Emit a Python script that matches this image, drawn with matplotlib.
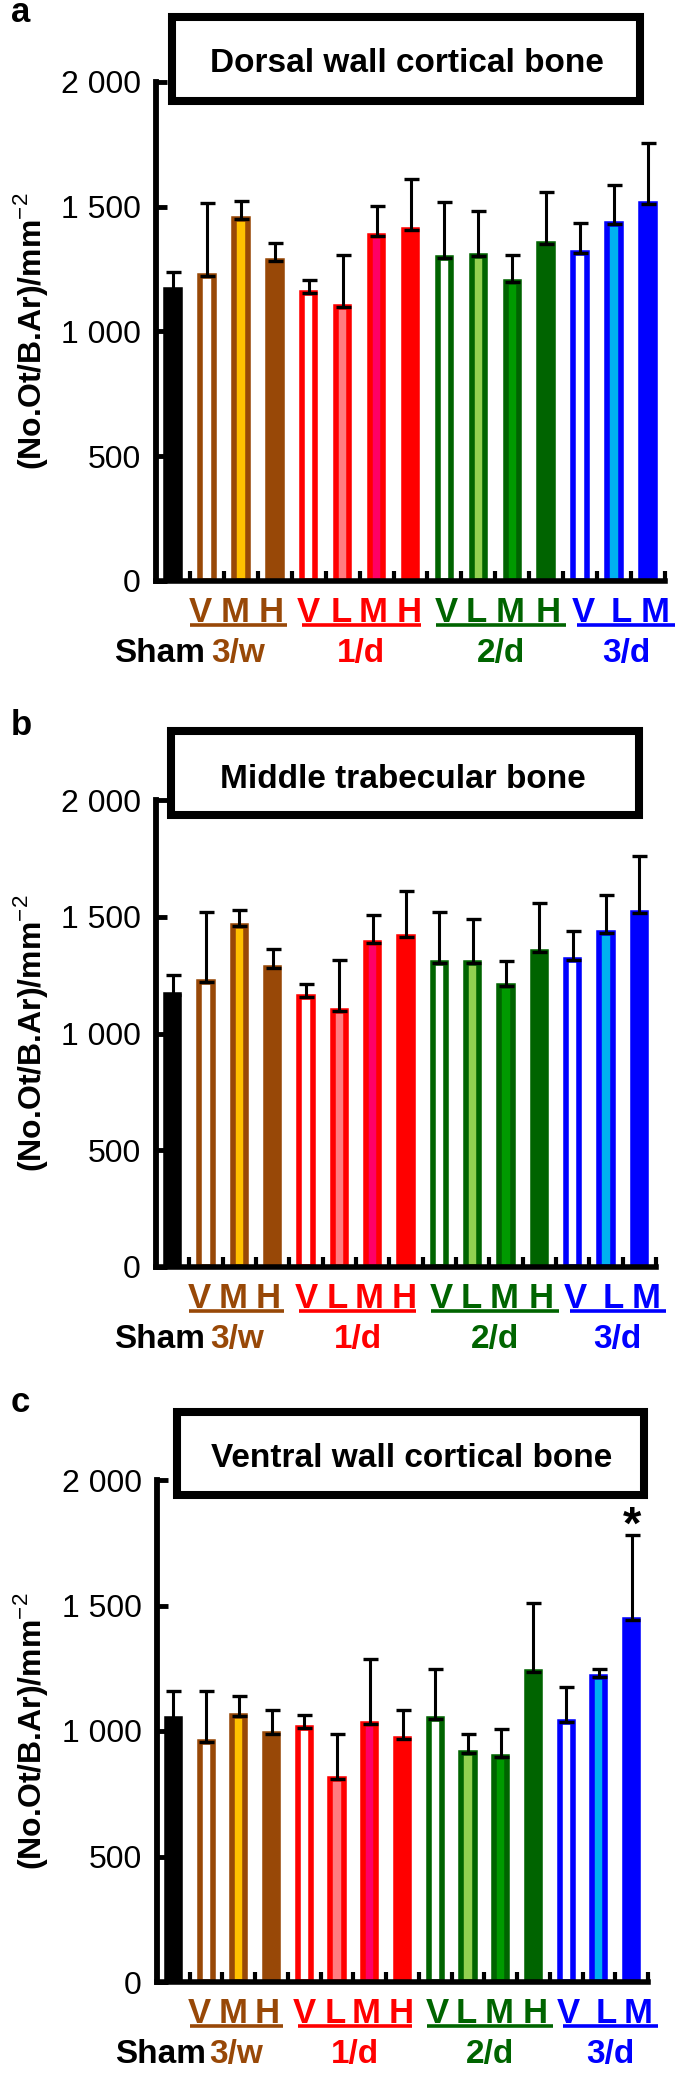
import numpy as np
import matplotlib
matplotlib.use("Agg")
import matplotlib.pyplot as plt
import matplotlib.transforms as mtransforms
from matplotlib.patches import Rectangle

plt.rcParams["font.family"] = ["Liberation Sans", "DejaVu Sans"]
plt.rcParams["mathtext.fontset"] = "custom"
plt.rcParams["mathtext.rm"] = "Liberation Sans"
plt.rcParams["mathtext.bf"] = "Liberation Sans:bold"

W, H = 675, 2074

# ---- data ----
GROUPS = ["Sham", "3/w", "1/d", "2/d", "3/d"]
GROUP_SIZES = [1, 3, 4, 4, 3]
GROUP_COLORS = ["#000000", "#984807", "#FF0000", "#006400", "#0000FF"]
LETTERS = ["", "V", "M", "H", "V", "L", "M", "H", "V", "L", "M", "H", "V", "L", "M"]
FACE_COLORS = ["#000000",
               "#FFFFFF", "#FFC000", "#984807",
               "#FFFFFF", "#FF7C80", "#FF0066", "#FF0000",
               "#FFFFFF", "#92D050", "#009A00", "#006400",
               "#FFFFFF", "#00B0F0", "#0000FF"]
EDGE_COLORS = ["#000000",
               "#984807", "#984807", "#984807",
               "#FF0000", "#FF0000", "#FF0000", "#FF0000",
               "#006400", "#006400", "#006400", "#006400",
               "#0000FF", "#0000FF", "#0000FF"]

DORSAL_MEAN = [1166, 1222, 1451, 1283, 1153, 1097, 1384, 1408, 1294, 1303, 1200, 1349, 1313, 1430, 1510]
DORSAL_SD = [74, 292, 73, 73, 53, 211, 118, 202, 225, 180, 107, 211, 123, 157, 247]

MIDDLE_MEAN = [1165, 1222, 1460, 1279, 1158, 1096, 1389, 1415, 1301, 1301, 1205, 1350, 1315, 1429, 1518]
MIDDLE_SD = [86, 300, 70, 82, 53, 219, 117, 195, 221, 188, 107, 211, 125, 164, 242]

VENTRAL_MEAN = [1047, 956, 1058, 989, 1013, 807, 1027, 967, 1047, 911, 897, 1236, 1036, 1214, 1443]
VENTRAL_SD = [113, 204, 82, 96, 51, 180, 261, 118, 199, 76, 112, 272, 141, 32, 339]
VENTRAL_STARS = [14]

TITLES = ["Dorsal wall cortical bone", "Middle trabecular bone", "Ventral wall cortical bone"]
PANEL_LETTERS = ["a", "b", "c"]
Y_TICKS = [0, 500, 1000, 1500, 2000]
Y_TICK_LABELS = ["0", "500", "1 000", "1 500", "2 000"]
Y_LABEL = r"(No.Ot/B.Ar)/mm$^{\mathrm{-2}}$"

# ---- layout (pixels / slot units) ----
PANELS = [
    dict(axes=(156, 82, 665, 581), box=(168, 13, 644, 105), title_x=407, title_base=72, letter_base=22),
    dict(axes=(156, 800, 656, 1267), box=(167, 727, 643, 819), title_x=403, title_base=788, letter_base=735),
    dict(axes=(157, 1480, 648, 1982), box=(173, 1408, 648, 1499), title_x=412, title_base=1467, letter_base=1412),
]
LETTER_SHIFT = [0, -0.2, -0.18, -0.12, 0, -0.05, -0.1, -0.05, 0.05, -0.05, -0.05, 0.05, 0.08, 0.22, 0.2]
UNDERLINE_PAD = [None, (0.5, 0.35), (0.2, 0.3), (0.24, 0.59), (0.09, 0.8)]


def fig_rect(l, t, r, b):
    return [l / W, 1 - b / H, (r - l) / W, (b - t) / H]


def group_spans():
    spans = []
    start = 0
    for size in GROUP_SIZES:
        spans.append((start, start + size - 1))
        start += size
    return spans


def draw_panel(fig, spec, means, sds, title, letter, stars):
    l, t, r, b = spec["axes"]
    ax = fig.add_axes(fig_rect(l, t, r, b))
    n = len(means)
    x = np.arange(n)

    ax.bar(x, means, width=0.4, color=FACE_COLORS, edgecolor=EDGE_COLORS, linewidth=4.0, zorder=2)
    ax.errorbar(x, means, yerr=[[0] * n, sds], fmt="none", ecolor="black",
                elinewidth=2.2, capsize=5.4, capthick=2.4, zorder=3)
    for i in stars:
        ax.annotate("*", xy=(i, means[i] + sds[i]), xytext=(0, -10), textcoords="offset points",
                    ha="center", va="bottom", fontsize=34, fontweight="bold")

    ax.set_xlim(-0.5, n - 0.5)
    ax.set_ylim(0, 2000)
    ax.spines[["top", "right"]].set_visible(False)
    ax.spines["left"].set_linewidth(4.2)
    ax.spines["bottom"].set_linewidth(4.0)
    ax.set_xticks(np.arange(0.5, n, 1))
    ax.tick_params(axis="x", direction="in", length=7, width=3, labelbottom=False)
    ax.set_yticks(Y_TICKS)
    ax.set_yticklabels(Y_TICK_LABELS)
    ax.tick_params(axis="y", direction="in", length=8, width=3.5, labelsize=23, pad=11)
    ax.patch.set_alpha(0)

    base = ax.get_xaxis_transform()
    letter_tr = mtransforms.offset_copy(base, fig=fig, y=-41, units="dots")
    line_tr = mtransforms.offset_copy(base, fig=fig, y=-44, units="dots")
    group_tr = mtransforms.offset_copy(base, fig=fig, y=-81, units="dots")

    for i, (s, colour) in enumerate(zip(LETTERS, EDGE_COLORS)):
        if s:
            ax.text(i + LETTER_SHIFT[i], 0, s, transform=letter_tr, ha="center", va="baseline",
                    fontsize=25, fontweight="bold", color=colour, clip_on=False)

    for name, colour, (first, last), pad in zip(GROUPS, GROUP_COLORS, group_spans(), UNDERLINE_PAD):
        if pad is None:
            ax.text(first - 0.38, 0, name, transform=group_tr, ha="center", va="baseline",
                    fontsize=24, fontweight="bold", color=colour, clip_on=False)
            continue
        x0, x1 = first - pad[0], last + pad[1]
        ax.plot([x0, x1], [0, 0], transform=line_tr, color=colour, lw=2.6, clip_on=False,
                solid_capstyle="butt")
        ax.text((x0 + x1) / 2, 0, name, transform=group_tr, ha="center", va="baseline",
                fontsize=24, fontweight="bold", color=colour, clip_on=False)

    # title box
    bl, bt, br, bb = spec["box"]
    inset = 4
    rect = Rectangle(((bl + inset) / W, 1 - (bb - inset) / H), (br - bl - 2 * inset) / W,
                     (bb - bt - 2 * inset) / H, transform=fig.transFigure,
                     facecolor="white", edgecolor="black", linewidth=5.8, zorder=5)
    fig.add_artist(rect)
    fig.text(spec["title_x"] / W, 1 - spec["title_base"] / H, title, ha="center", va="baseline",
             fontsize=24, fontweight="bold", zorder=6)

    fig.text(11 / W, 1 - spec["letter_base"] / H, letter, ha="left", va="baseline",
             fontsize=25, fontweight="bold")
    fig.text(31 / W, 1 - ((t + b) / 2) / H, Y_LABEL, rotation=90, ha="center", va="center",
             fontsize=23, fontweight="bold")
    return ax


def main():
    fig = plt.figure(figsize=(W / 100, H / 100), dpi=100, facecolor="white")
    data = [
        (DORSAL_MEAN, DORSAL_SD, []),
        (MIDDLE_MEAN, MIDDLE_SD, []),
        (VENTRAL_MEAN, VENTRAL_SD, VENTRAL_STARS),
    ]
    for spec, (means, sds, stars), title, letter in zip(PANELS, data, TITLES, PANEL_LETTERS):
        draw_panel(fig, spec, means, sds, title, letter, stars)
    fig.savefig("out.png", dpi=100, facecolor="white")
    plt.close(fig)


if __name__ == "__main__":
    main()
